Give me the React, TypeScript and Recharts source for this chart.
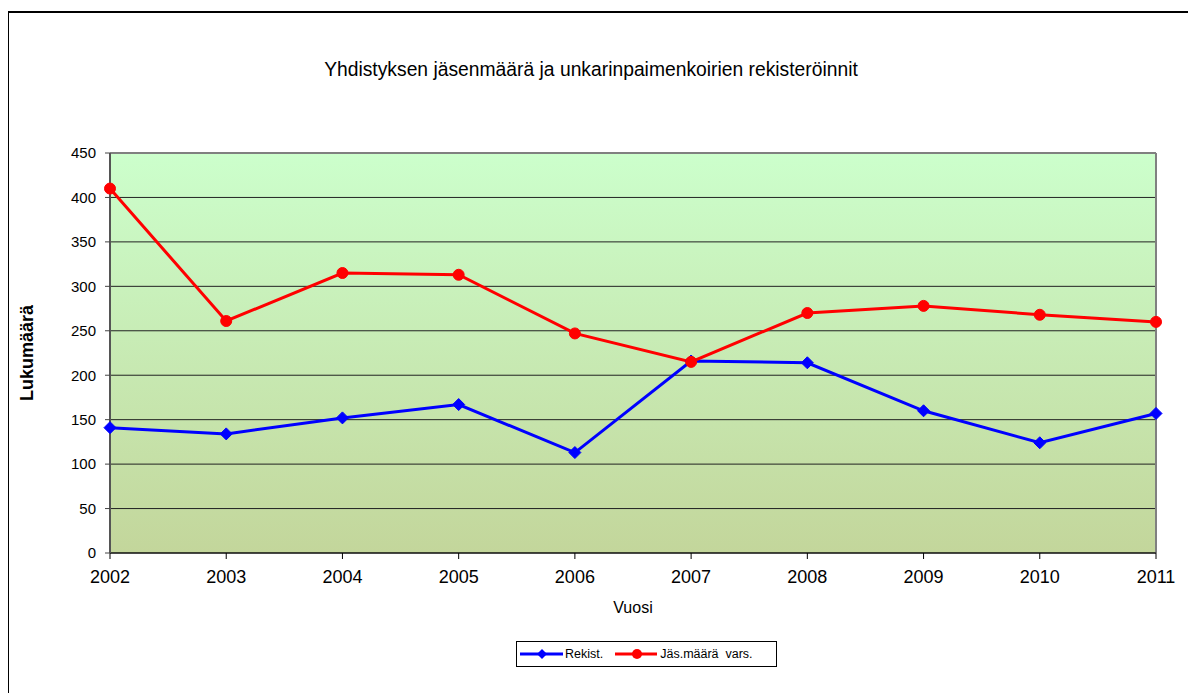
import React from "react";
import {
  LineChart,
  Line,
  XAxis,
  YAxis,
  CartesianGrid,
  ReferenceLine,
  Legend,
} from "recharts";

const years = ["2002", "2003", "2004", "2005", "2006", "2007", "2008", "2009", "2010", "2011"];
const rekist = [141, 134, 152, 167, 113, 216, 214, 160, 124, 157];
const jasenmaara = [410, 261, 315, 313, 247, 215, 270, 278, 268, 260];
const yTicks = [0, 50, 100, 150, 200, 250, 300, 350, 400, 450];

const data = years.map((y, i) => ({ year: y, rekist: rekist[i], jasen: jasenmaara[i] }));

const FONT = "'Liberation Sans', Arial, sans-serif";

const Diamond = (props: any) => {
  const { cx, cy, index } = props;
  if (cx == null || cy == null) return <g key={`d-${index}`} />;
  const r = 6;
  return (
    <polygon
      key={`d-${index}`}
      points={`${cx},${cy - r} ${cx + r},${cy} ${cx},${cy + r} ${cx - r},${cy}`}
      fill="#0000FF"
      stroke="#0000FF"
      strokeWidth={1}
    />
  );
};

const CircleDot = (props: any) => {
  const { cx, cy, index } = props;
  if (cx == null || cy == null) return <g key={`c-${index}`} />;
  return <circle key={`c-${index}`} cx={cx} cy={cy} r={5.5} fill="#FF0000" stroke="#FF0000" />;
};

const LegendContent = () => (
  <div
    style={{
      border: "1px solid #000",
      width: 259,
      height: 24,
      display: "flex",
      alignItems: "center",
      fontFamily: FONT,
      fontSize: 12.5,
      color: "#000",
      background: "#fff",
      boxSizing: "content-box",
    }}
  >
    <svg width={48} height={24} style={{ marginLeft: 2 }}>
      <line x1={1} y1={12} x2={44} y2={12} stroke="#0000FF" strokeWidth={3} />
      <polygon points="23,7 28,12 23,17 18,12" fill="#0000FF" />
    </svg>
    <span style={{ whiteSpace: "pre", marginLeft: -2 }}>Rekist.</span>
    <svg width={48} height={24} style={{ marginLeft: 9 }}>
      <line x1={3} y1={12} x2={45} y2={12} stroke="#FF0000" strokeWidth={3} />
      <circle cx={25} cy={12} r={5} fill="#FF0000" />
    </svg>
    <span style={{ whiteSpace: "pre" }}>Jäs.määrä  vars.</span>
  </div>
);

const YTitle = (props: any) => {
  const vb = props.viewBox || {};
  const cy = (vb.y ?? 0) + (vb.height ?? 0) / 2;
  const x = 19;
  return (
    <text
      x={x}
      y={cy}
      transform={`rotate(-90, ${x}, ${cy})`}
      textAnchor="middle"
      dominantBaseline="central"
      fontFamily={FONT}
      fontSize={18}
      fontWeight="bold"
      fill="#000"
    >
      Lukumäärä
    </text>
  );
};

const XTitle = (props: any) => {
  const vb = props.viewBox || {};
  const cx = (vb.x ?? 0) + (vb.width ?? 0) / 2;
  return (
    <text
      x={cx}
      y={599}
      textAnchor="middle"
      dominantBaseline="central"
      fontFamily={FONT}
      fontSize={16}
      fill="#000"
    >
      Vuosi
    </text>
  );
};

export default function App() {
  return (
    <div style={{ position: "relative", width: 1188, height: 692 }}>
      <div
        style={{
          position: "absolute",
          left: -1,
          top: 3,
          width: 1180,
          height: 680,
          borderLeft: "2px solid #000",
          borderTop: "2px solid #000",
        }}
      />
      <div
        style={{
          position: "absolute",
          left: 0,
          width: 1166,
          top: 51,
          textAlign: "center",
          fontFamily: FONT,
          fontSize: 19.3,
          color: "#000",
        }}
      >
        Yhdistyksen jäsenmäärä ja unkarinpaimenkoirien rekisteröinnit
      </div>
      <div style={{ position: "absolute", left: 0, top: 0 }}>
        <LineChart
          width={1188}
          height={692}
          data={data}
          margin={{ top: 145, right: 40, bottom: 107, left: 42 }}
        >
          <defs>
            <linearGradient id="plotBg" x1="0" y1="0" x2="0" y2="1">
              <stop offset="0%" stopColor="#CCFFCC" />
              <stop offset="100%" stopColor="#C3D69B" />
            </linearGradient>
          </defs>
          <CartesianGrid
            vertical={false}
            horizontal={true}
            stroke="#222"
            strokeWidth={1}
            fill="url(#plotBg)"
            fillOpacity={1}
          />
          <XAxis
            dataKey="year"
            height={40}
            tickLine={{ stroke: "#000" }}
            tickSize={6}
            tickMargin={11}
            axisLine={{ stroke: "#000", strokeWidth: 1 }}
            tick={{ fontSize: 18, fill: "#000", fontFamily: FONT }}
            interval={0}
            label={<XTitle />}
          />
          <YAxis
            width={60}
            domain={[0, 450]}
            ticks={yTicks}
            interval={0}
            tickSize={5}
            tickMargin={9}
            tickLine={{ stroke: "#444" }}
            axisLine={{ stroke: "#555", strokeWidth: 2 }}
            tick={{ fontSize: 15, fill: "#000", fontFamily: FONT }}
            label={<YTitle />}
          />
          <ReferenceLine x="2011" stroke="#808080" strokeWidth={2} />
          <ReferenceLine y={450} stroke="#808080" strokeWidth={2} />
          <Line
            type="linear"
            dataKey="rekist"
            name="Rekist."
            stroke="#0000FF"
            strokeWidth={3}
            dot={Diamond}
            activeDot={false}
            isAnimationActive={false}
          />
          <Line
            type="linear"
            dataKey="jasen"
            name="Jäs.määrä  vars."
            stroke="#FF0000"
            strokeWidth={3}
            dot={CircleDot}
            activeDot={false}
            isAnimationActive={false}
          />
          <Legend
            layout="horizontal"
            verticalAlign="middle"
            align="center"
            content={<LegendContent />}
            wrapperStyle={{ top: 633, left: 508, width: 261, height: 26 }}
          />
        </LineChart>
      </div>
    </div>
  );
}
